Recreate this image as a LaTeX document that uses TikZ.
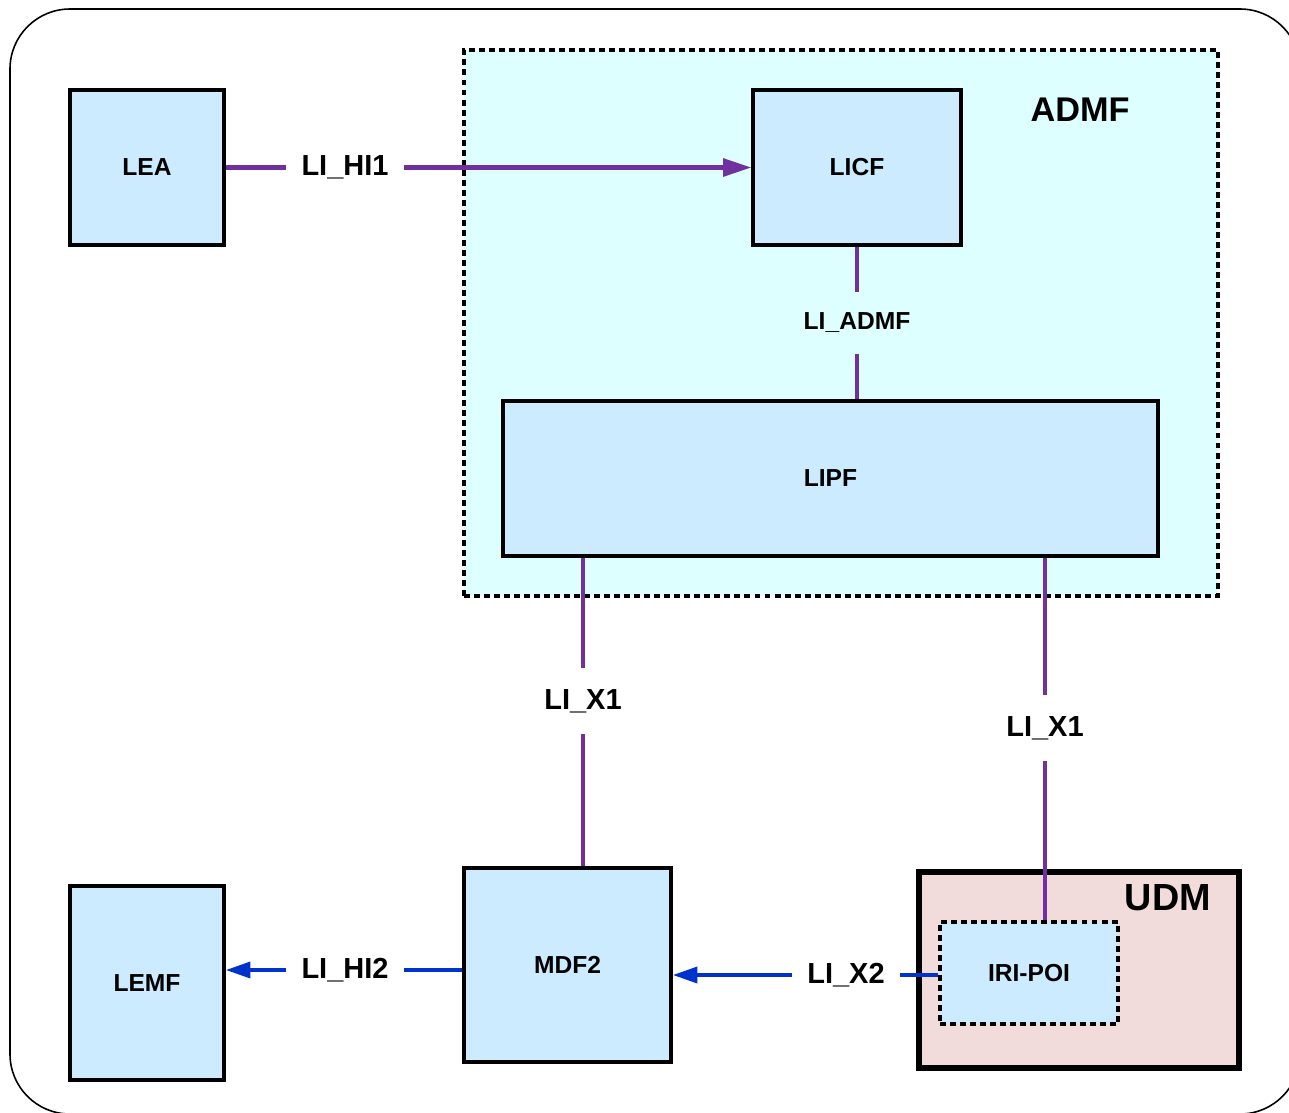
\documentclass[tikz,border=0pt]{standalone}
\usepackage{fontspec}
\setmainfont{Liberation Sans}
\usetikzlibrary{arrows.meta}

\definecolor{boxblue}{HTML}{CCEBFF}
\definecolor{admfcyan}{HTML}{DDFFFF}
\definecolor{udmpink}{HTML}{F2DCDB}
\definecolor{lipurple}{HTML}{7030A0}
\definecolor{liblue}{HTML}{0033CC}

\begin{document}
\begin{tikzpicture}[x=0.02cm, y=-0.02cm,
    block/.style={draw, rectangle, line width=2pt, fill=boxblue, font=\bfseries\fontsize{14}{16}\selectfont},
    link/.style={rectangle, inner xsep=0.3cm, inner ysep=0.42cm, font=\bfseries\fontsize{16.5}{18}\selectfont},
    dotbox/.style={draw, rectangle, dash pattern=on 3.4pt off 2.3pt, line width=2pt},
    purpleline/.style={draw=lipurple, line width=2.3pt},
    blueline/.style={draw=liblue, line width=2.3pt},
    tip/.style={-{Triangle[length=14pt, width=9pt]}}]
    \useasboundingbox (0,0) rectangle (1289,1113);

    % Outer frame
    \draw[line width=0.9pt, rounded corners=1.2cm] (10,9) rectangle (1300,1114);

    % Draw containers
    \node (admf) at (841, 323) [dotbox, fill=admfcyan, minimum width=15.08cm, minimum height=10.92cm] {};
    \node (admflbl) at (1080, 110) [font=\bfseries\fontsize{19.5}{22}\selectfont] {ADMF};
    \node (udm) at (1079, 970) [draw, rectangle, line width=3.3pt, fill=udmpink, minimum width=6.4cm, minimum height=3.92cm] {};
    \node (udmlbl) at (1168, 898) [font=\bfseries\fontsize{21.5}{24}\selectfont] {UDM};

    % Draw functions
    \node (lea) at (147, 167.5) [block, minimum width=3.08cm, minimum height=3.1cm] {LEA};
    \node (licf) at (857, 167.5) [block, minimum width=4.16cm, minimum height=3.1cm] {LICF};
    \node (lipf) at (830.5, 478.5) [block, minimum width=13.1cm, minimum height=3.1cm] {LIPF};
    \node (mdf2) at (567.5, 965) [block, minimum width=4.14cm, minimum height=3.88cm] {MDF2};
    \node (lemf) at (147, 983) [block, minimum width=3.08cm, minimum height=3.88cm] {LEMF};
    \node (iripoi) at (1029, 973) [block, dotbox, minimum width=3.56cm, minimum height=2.04cm] {IRI-POI};

    % Draw interface labels
    \node (hi1) at (345, 167.5) [link] {LI\_HI1};
    \node (liadmf) at (857, 323) [link, font=\bfseries\fontsize{14}{16}\selectfont] {LI\_ADMF};
    \node (x1l) at (583, 701) [link] {LI\_X1};
    \node (x1r) at (1045, 728) [link] {LI\_X1};
    \node (hi2) at (345, 970) [link] {LI\_HI2};
    \node (x2) at (846, 975) [link] {LI\_X2};

    % Draw arrows
    \draw[purpleline] (lea) -- (hi1);
    \draw[purpleline, -{Triangle[length=16pt, width=10pt]}] (hi1) -- (licf);
    \draw[purpleline] (licf) -- (liadmf);
    \draw[purpleline] (liadmf) -- (liadmf |- lipf.north);
    \draw[purpleline] (lipf.south -| x1l) -- (x1l);
    \draw[purpleline] (x1l) -- (x1l |- mdf2.north);
    \draw[purpleline] (lipf.south -| x1r) -- (x1r);
    \draw[purpleline] (x1r) -- (x1r |- iripoi.north);
    \draw[blueline] (mdf2.west |- hi2) -- (hi2);
    \draw[blueline, tip] (hi2) -- (hi2 -| lemf.east);
    \draw[blueline] (iripoi.west |- x2) -- (x2);
    \draw[blueline, tip] (x2) -- (x2 -| mdf2.east);
\end{tikzpicture}
\end{document}
